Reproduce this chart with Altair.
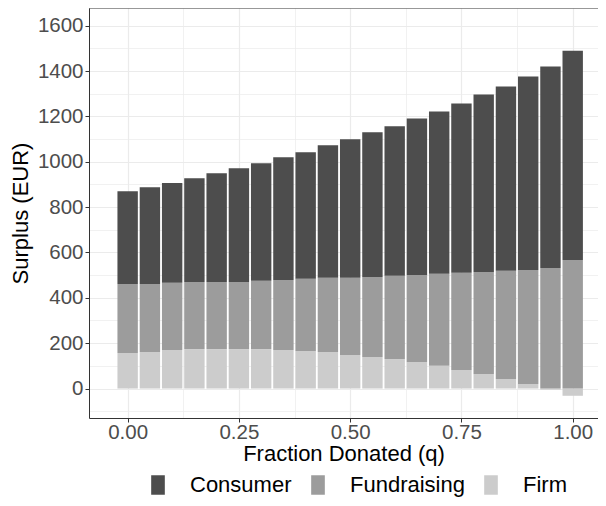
import altair as alt
import pandas as pd

q = [0.00, 0.05, 0.10, 0.15, 0.20, 0.25, 0.30, 0.35, 0.40, 0.45, 0.50,
     0.55, 0.60, 0.65, 0.70, 0.75, 0.80, 0.85, 0.90, 0.95, 1.00]
firm = [157, 161, 170, 174, 174, 174, 174, 170, 166, 161, 148,
        139, 130, 117, 100, 82, 64, 42, 20, -5, -32]
fundraising = [304, 300, 296, 296, 296, 296, 301, 309, 318, 327, 340,
               353, 367, 384, 406, 428, 450, 477, 503, 532, 567]
consumer = [409, 427, 440, 457, 479, 501, 518, 541, 558, 585, 611,
            638, 659, 690, 716, 747, 783, 813, 853, 888, 923]

categories = ["Consumer", "Fundraising", "Firm"]
colors = ["#4D4D4D", "#9C9C9C", "#CCCCCC"]
stack_order = {"Firm": 0, "Fundraising": 1, "Consumer": 2}

rows = []
for name, vals in (("Firm", firm), ("Fundraising", fundraising), ("Consumer", consumer)):
    for qi, v in zip(q, vals):
        rows.append({"q": qi, "value": v, "type": name, "ord": stack_order[name]})
df = pd.DataFrame(rows)

W, H = 509, 410
x_vals = [0, 0.125, 0.25, 0.375, 0.5, 0.625, 0.75, 0.875, 1.0]
y_vals = list(range(-100, 1700, 100))

bars = alt.Chart(df).mark_bar(size=20.4).encode(
    x=alt.X("q:Q",
            scale=alt.Scale(domain=[-0.0756, 1.0456], nice=False, zero=False),
            axis=alt.Axis(
                title="Fraction Donated (q)",
                values=x_vals,
                format=".2f",
                labelExpr="round(datum.value*100) % 25 === 0 ? datum.label : ''",
                tickOpacity={"condition": {"test": "round(datum.value*100) % 25 !== 0", "value": 0}, "value": 1},
                gridWidth={"condition": {"test": "round(datum.value*100) % 25 !== 0", "value": 0.7}, "value": 1.2},
                labelPadding=0,
                titlePadding=1,
            )),
    y=alt.Y("value:Q", stack="zero",
            scale=alt.Scale(domain=[-130, 1678], nice=False, zero=False),
            axis=alt.Axis(
                title="Surplus (EUR)",
                values=y_vals,
                format="d",
                labelExpr="datum.value % 200 === 0 ? datum.label : ''",
                tickOpacity={"condition": {"test": "datum.value % 200 !== 0", "value": 0}, "value": 1},
                gridWidth={"condition": {"test": "datum.value % 200 !== 0", "value": 0.7}, "value": 1.2},
                labelPadding=2,
                titlePadding=5,
            )),
    color=alt.Color("type:N",
                    scale=alt.Scale(domain=categories, range=colors),
                    legend=alt.Legend(
                        orient="none", legendX=58, legendY=466, direction="horizontal",
                        title=None, symbolType="M-0.7,-1H0.7V1H-0.7Z", symbolSize=380,
                        symbolStrokeWidth=0, symbolOpacity=1,
                        labelFontSize=22, labelColor="black", labelOffset=21,
                        columnPadding=15, padding=0,
                    )),
    order=alt.Order("ord:Q"),
)

top_border = alt.Chart(pd.DataFrame({"a": [0]})).mark_rule(color="#333333", strokeWidth=1).encode(
    y=alt.value(0), x=alt.value(0), x2=alt.value(W)
)

chart = alt.layer(bars, top_border).properties(
    width=W, height=H,
    autosize=alt.AutoSizeParams(type="none"),
    padding={"left": 81, "top": 0, "right": 0, "bottom": 80},
).configure(
    font="Liberation Sans",
).configure_view(
    stroke=None,
).configure_axis(
    gridColor="#EBEBEB",
    domainColor="#333333",
    domainWidth=1,
    tickColor="#333333",
    tickSize=4,
    labelFontSize=20.5,
    labelColor="#4D4D4D",
    titleFontSize=22,
    titleColor="black",
    titleFontWeight="normal",
)

chart.save("out.html", embed_options={"renderer": "svg", "actions": False})
